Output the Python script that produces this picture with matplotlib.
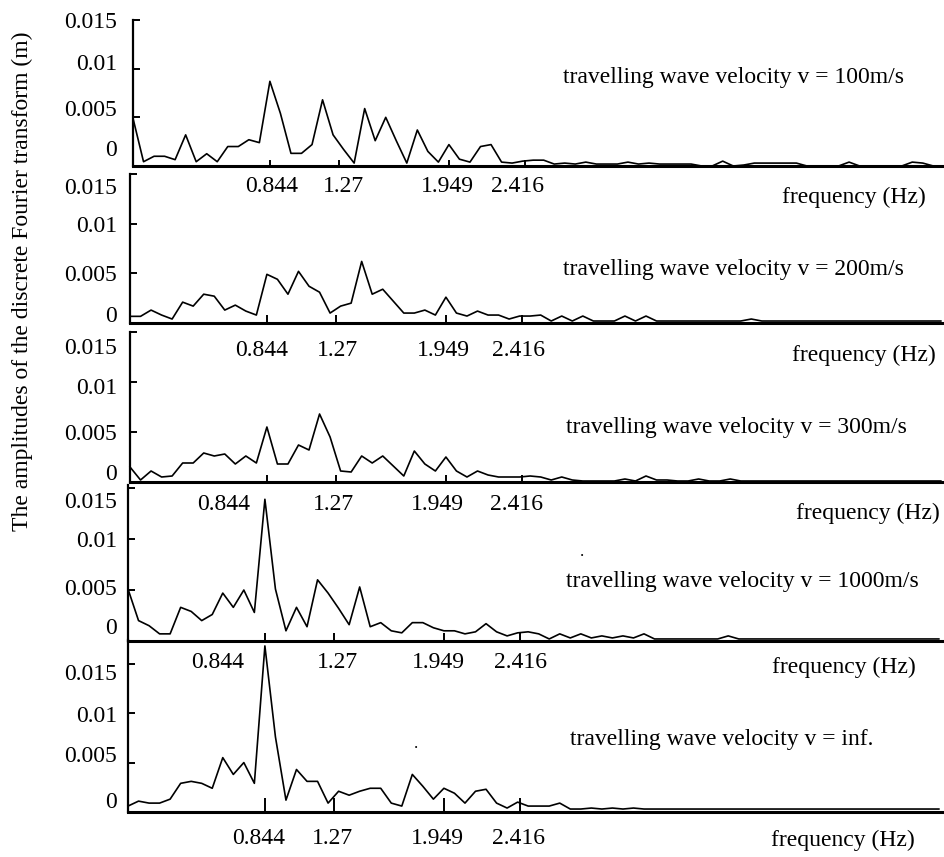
import numpy as np
import matplotlib.pyplot as plt
from matplotlib import transforms

plt.rcParams['font.family'] = ['Liberation Serif', 'DejaVu Serif']
plt.rcParams['font.size'] = 17

# DFT bin width (Hz): 0.844 Hz sits on bin 13
df = 0.844 / 13

amp_v100 = [0.0049, 0.00044, 0.001, 0.001, 0.00065, 0.0032, 0.00044, 0.00126, 0.00044, 0.002,
            0.002, 0.0027, 0.0024, 0.0087, 0.0054, 0.0013, 0.0013, 0.0022, 0.0068, 0.0032,
            0.0017, 0.0003, 0.0059, 0.0026, 0.005, 0.0026, 0.0003, 0.0037, 0.0015, 0.0004,
            0.0022, 0.0007, 0.0004, 0.002, 0.0022, 0.0004, 0.0003, 0.0005, 0.0006, 0.0006,
            0.0002, 0.0003, 0.0002, 0.0004, 0.0002, 0.0002, 0.0002, 0.0004, 0.0002, 0.0003,
            0.0002, 0.0002, 0.0002, 0.0002, 0.0, 0.0, 0.0005, 0.0, 0.0001, 0.0003,
            0.0003, 0.0003, 0.0003, 0.0003, 0.0, 0.0, 0.0, 0.0, 0.0004, 0.0,
            0.0, 0.0, 0.0, 0.0, 0.0004, 0.0003, 0.0, 0.0]
amp_v200 = [0.00067, 0.00067, 0.0013, 0.0008, 0.0004, 0.0021, 0.0017, 0.0029, 0.0027, 0.0013,
            0.0018, 0.0012, 0.0008, 0.0049, 0.0044, 0.0029, 0.0052, 0.0037, 0.0031, 0.001,
            0.0017, 0.002, 0.0062, 0.0029, 0.0034, 0.0022, 0.001, 0.001, 0.0013, 0.0008,
            0.0026, 0.001, 0.0007, 0.0012, 0.0008, 0.0008, 0.0004, 0.0007, 0.0007, 0.0008,
            0.0002, 0.0007, 0.0002, 0.0007, 0.0002, 0.0002, 0.0002, 0.0007, 0.0002, 0.0007,
            0.0002, 0.0002, 0.0002, 0.0002, 0.0002, 0.0002, 0.0002, 0.0002, 0.0002, 0.0004,
            0.0002, 0.0002, 0.0002, 0.0002, 0.0002, 0.0002, 0.0002, 0.0002, 0.0002, 0.0002,
            0.0002, 0.0002, 0.0002, 0.0002, 0.0002, 0.0002, 0.0002, 0.0002]
amp_v300 = [0.0015, 0.0002, 0.0011, 0.0005, 0.0006, 0.0019, 0.0019, 0.0029, 0.0026, 0.0028,
            0.0018, 0.0026, 0.0019, 0.0055, 0.0018, 0.0018, 0.0037, 0.0032, 0.0068, 0.0045,
            0.0011, 0.001, 0.0026, 0.0019, 0.0026, 0.0016, 0.0006, 0.0031, 0.0018, 0.0011,
            0.0025, 0.0011, 0.0005, 0.0011, 0.0007, 0.0005, 0.0005, 0.0005, 0.0006, 0.0005,
            0.0002, 0.0005, 0.0002, 0.0001, 0.0001, 0.0001, 0.0001, 0.0003, 0.0001, 0.0006,
            0.0002, 0.0002, 0.0001, 0.0001, 0.0003, 0.0001, 0.0001, 0.0003, 0.0001, 0.0001,
            0.0001, 0.0001, 0.0001, 0.0001, 0.0001, 0.0001, 0.0001, 0.0001, 0.0001, 0.0001,
            0.0001, 0.0001, 0.0001, 0.0001, 0.0001, 0.0001, 0.0001, 0.0001]
amp_v1000 = [0.0051, 0.002, 0.0015, 0.0007, 0.0007, 0.0033, 0.0029, 0.002, 0.0026, 0.0047,
             0.0033, 0.005, 0.0028, 0.0139, 0.0051, 0.001, 0.0033, 0.0014, 0.006, 0.0047,
             0.0032, 0.0016, 0.0053, 0.0014, 0.0018, 0.001, 0.0008, 0.0018, 0.0018, 0.0013,
             0.001, 0.001, 0.0007, 0.0009, 0.0017, 0.0009, 0.0005, 0.0008, 0.0009, 0.0007,
             0.0002, 0.0007, 0.0003, 0.0007, 0.0003, 0.0005, 0.0003, 0.0005, 0.0003, 0.0007,
             0.0002, 0.0002, 0.0002, 0.0002, 0.0002, 0.0002, 0.0002, 0.0005, 0.0002, 0.0002,
             0.0002, 0.0002, 0.0002, 0.0002, 0.0002, 0.0002, 0.0002, 0.0002, 0.0002, 0.0002,
             0.0002, 0.0002, 0.0002, 0.0002, 0.0002, 0.0002, 0.0002, 0.0002]
amp_vinf = [0.0006, 0.0011, 0.0009, 0.0009, 0.0013, 0.0029, 0.0031, 0.0029, 0.0024, 0.0055,
            0.0038, 0.005, 0.0029, 0.0168, 0.0076, 0.0012, 0.0043, 0.0031, 0.0031, 0.0009,
            0.0021, 0.0017, 0.0021, 0.0024, 0.0024, 0.0009, 0.0006, 0.0038, 0.0026, 0.0013,
            0.0024, 0.0019, 0.0009, 0.0021, 0.0023, 0.0009, 0.0004, 0.001, 0.0006, 0.0006,
            0.0006, 0.0009, 0.0003, 0.0003, 0.0004, 0.0003, 0.0004, 0.0003, 0.0004, 0.0003,
            0.0003, 0.0003, 0.0003, 0.0003, 0.0003, 0.0003, 0.0003, 0.0003, 0.0003, 0.0003,
            0.0003, 0.0003, 0.0003, 0.0003, 0.0003, 0.0003, 0.0003, 0.0003, 0.0003, 0.0003,
            0.0003, 0.0003, 0.0003, 0.0003, 0.0003, 0.0003, 0.0003, 0.0003]

spectra = [amp_v100, amp_v200, amp_v300, amp_v1000, amp_vinf]
velocity_labels = ['100m/s', '200m/s', '300m/s', '1000m/s', 'inf.']
marked_freqs = [0.844, 1.27, 1.949, 2.416]
freq_labels = ['0.844', '1.27', '1.949', '2.416']
ytick_vals = [0, 0.005, 0.01, 0.015]
ytick_labels = ['0', '0.005', '0.01', '0.015']

W, H = 944, 857
px_per_hz = 162.2
# panel frames in pixels: left, bottom, top, y max
frames = [(133, 166, 20, 0.015),
          (130, 323, 174, 0.015),
          (130, 482, 332, 0.015),
          (128, 641, 485, 0.0153),
          (128, 812, 640, 0.0174)]
xtick_len = [4.5, 5.5, 5, 5.5, 10]
# nudges of the hand-placed labels (pixels)
ylab_dy = [[-16, -7, -4, 2], [-7, 2, 3, 15], [-8, 2, 7, 17], [-13, -1, 2, 14], [-10, -6, 3, 11]]
xlab_dx = [[2, 4, -2, -7], [-5, 1, -3, -3], [-43, -3, -9, -5], [-47, 3, -6, 1], [-6, -2, -7, -1]]
xlab_dy = [21, 27, 22, 22, 26]
hz_pos = [(854, 197), (864, 355), (868, 513), (844, 667), (843, 840)]
vel_pos = [(563, 78), (563, 270), (566, 428), (566, 582), (570, 740)]

fig = plt.figure(figsize=(W / 100, H / 100), dpi=100)
px = fig.dpi_scale_trans

for k, (amp, (l, b, t, ymax)) in enumerate(zip(spectra, frames)):
    ax = fig.add_axes([l / W, 1 - b / H, (W - l) / W, (b - t) / H])
    freq = df * np.arange(len(amp))
    ax.plot(freq, amp, color='black', lw=1.2, clip_on=False)
    ax.set_xlim(0, (W - l) / px_per_hz)
    ax.set_ylim(0, ymax)
    for side in ('top', 'right'):
        ax.spines[side].set_visible(False)
    ax.spines['left'].set_linewidth(1.6)
    ax.spines['bottom'].set_linewidth(2.2)
    ax.set_xticks(marked_freqs)
    ax.set_yticks(ytick_vals[1:])
    ax.tick_params(axis='y', direction='in', length=5, width=1.4, labelleft=False)
    ax.tick_params(axis='x', direction='in', length=xtick_len[k], width=1.4,
                   labelbottom=False)
    ax.patch.set_alpha(0)

    ytr = transforms.blended_transform_factory(fig.transFigure, ax.transData)
    for val, lab, dy in zip(ytick_vals, ytick_labels, ylab_dy[k]):
        tr = ytr + transforms.ScaledTranslation(0, -dy / 100, px)
        ax.text(117 / W, val, lab, transform=tr, ha='right', va='center')
    for f, lab, dx in zip(marked_freqs, freq_labels, xlab_dx[k]):
        tr = ax.transData + transforms.ScaledTranslation(dx / 100, -xlab_dy[k] / 100, px)
        ax.text(f, 0, lab, transform=tr, ha='center', va='center')

    hx, hy = hz_pos[k]
    fig.text(hx / W, 1 - hy / H, 'frequency (Hz)', ha='center', va='center')
    vx, vy = vel_pos[k]
    fig.text(vx / W, 1 - vy / H, 'travelling wave velocity v = ' + velocity_labels[k],
             ha='left', va='center')

fig.text(582 / W, 1 - 556 / H, '.', fontsize=12, ha='center', va='baseline')
fig.text(416 / W, 1 - 748 / H, '.', fontsize=12, ha='center', va='baseline')

fig.text(22 / W, 1 - 281 / H, 'The amplitudes of the discrete Fourier transform (m)',
         rotation=90, ha='center', va='center')

fig.savefig('out.png', dpi=100)
